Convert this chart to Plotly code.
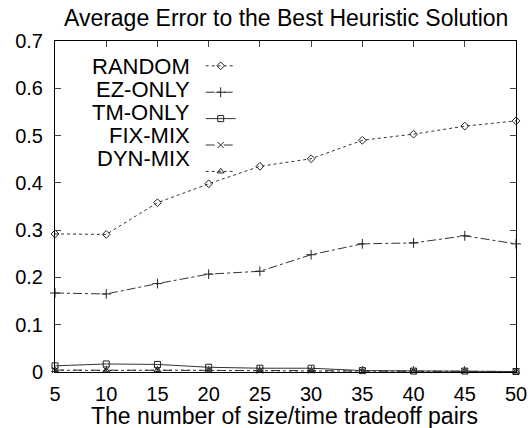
import plotly.graph_objects as go

pairs = [5, 10, 15, 20, 25, 30, 35, 40, 45, 50]
random_err = [0.292, 0.291, 0.358, 0.398, 0.435, 0.451, 0.490, 0.503, 0.520, 0.531]
ez_only = [0.167, 0.165, 0.187, 0.207, 0.213, 0.248, 0.271, 0.273, 0.288, 0.271]
tm_only = [0.013, 0.017, 0.016, 0.010, 0.008, 0.008, 0.003, 0.002, 0.002, 0.001]
fix_mix = [0.004, 0.004, 0.004, 0.004, 0.003, 0.003, 0.002, 0.002, 0.002, 0.001]
dyn_mix = [0.004, 0.003, 0.004, 0.003, 0.003, 0.002, 0.002, 0.002, 0.002, 0.001]

series = [
    ("RANDOM", random_err, "dot", "diamond-open", 6),
    ("EZ-ONLY", ez_only, "dashdot", "cross-thin-open", 7),
    ("TM-ONLY", tm_only, "solid", "square-open", 6),
    ("FIX-MIX", fix_mix, "dash", "x-thin-open", 6),
    ("DYN-MIX", dyn_mix, "3px,3px", "triangle-up-open", 6),
]

FONT = "Liberation Sans, Arial, Helvetica, sans-serif"
fig = go.Figure()
for name, vals, dash, sym, size in series:
    fig.add_trace(go.Scatter(
        x=pairs, y=vals, mode="lines+markers", name=" ",
        line=dict(color="#333", width=1, dash=dash),
        marker=dict(symbol=sym, size=size, color="#222", line=dict(color="#222", width=1)),
        cliponaxis=False, showlegend=True,
    ))

# legend labels (right-aligned text to the left of the key samples)
label_y = [0.924, 0.854, 0.784, 0.714, 0.644]
for (name, *_), yy in zip(series, label_y):
    fig.add_annotation(text=name, x=0.298, y=yy, xref="paper", yref="paper",
                       xanchor="right", yanchor="middle", showarrow=False,
                       font=dict(family=FONT, size=22, color="black"))

# x-axis title
fig.add_annotation(text="The number of size/time tradeoff pairs", x=0.497, y=-0.133,
                   xref="paper", yref="paper", xanchor="center", yanchor="middle",
                   showarrow=False, font=dict(family=FONT, size=23, color="black"))

fig.update_layout(
    width=530, height=428,
    margin=dict(l=55, r=14, t=41, b=56, autoexpand=False),
    paper_bgcolor="white", plot_bgcolor="white",
    font=dict(family=FONT, size=20, color="black"),
    title=dict(text="Average Error to the Best Heuristic Solution", x=0.54, xanchor="center",
               y=0.957, yanchor="middle", font=dict(family=FONT, size=23)),
    showlegend=True,
    legend=dict(x=0.316, y=0.98, xanchor="left", yanchor="top", bgcolor="rgba(0,0,0,0)",
                font=dict(size=18), itemwidth=30, tracegroupgap=0),
)
fig.update_xaxes(range=[5, 50], tickvals=pairs, ticks="inside", ticklen=6, mirror="ticks",
                 showline=True, linecolor="black", linewidth=1, showgrid=False, zeroline=False,
                 ticklabelstandoff=4, automargin=False,
                 tickfont=dict(family=FONT, size=20))
fig.update_yaxes(range=[0, 0.7], dtick=0.1, ticks="inside", ticklen=6, mirror="ticks",
                 showline=True, linecolor="black", linewidth=1, showgrid=False, zeroline=False,
                 ticklabelstandoff=7, automargin=False,
                 tickfont=dict(family=FONT, size=20))

fig.write_html("out.html", config={"displayModeBar": False},
               post_script="document.body.style.margin='0';")
